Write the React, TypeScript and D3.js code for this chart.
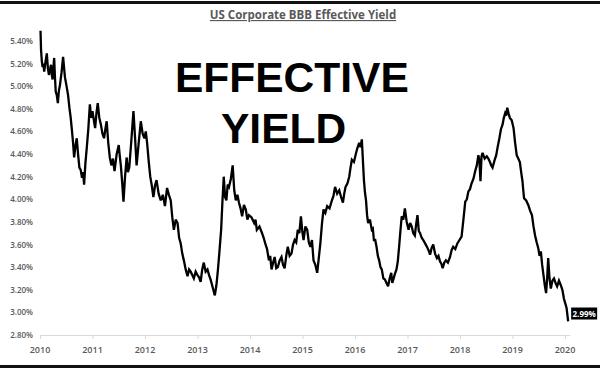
import * as d3 from "d3";

// decimal year / effective yield (%)
const YEARS = [
  2010.01, 2010.02, 2010.035, 2010.05, 2010.065, 2010.08, 2010.105, 2010.13, 2010.15, 2010.17,
  2010.19, 2010.21, 2010.225, 2010.24, 2010.255, 2010.27, 2010.285, 2010.3, 2010.32, 2010.34,
  2010.36, 2010.38, 2010.41, 2010.44, 2010.475, 2010.51, 2010.535, 2010.56, 2010.585, 2010.61,
  2010.63, 2010.65, 2010.675, 2010.7, 2010.725, 2010.75, 2010.775, 2010.8, 2010.82, 2010.84,
  2010.865, 2010.89, 2010.92, 2010.95, 2010.975, 2011.0, 2011.025, 2011.05, 2011.075, 2011.1,
  2011.13, 2011.16, 2011.19, 2011.22, 2011.245, 2011.27, 2011.3, 2011.33, 2011.36, 2011.39,
  2011.42, 2011.46, 2011.5, 2011.52, 2011.54, 2011.565, 2011.59, 2011.62, 2011.65, 2011.675,
  2011.7, 2011.74, 2011.78, 2011.81, 2011.84, 2011.88, 2011.92, 2011.955, 2011.99, 2012.015,
  2012.04, 2012.07, 2012.1, 2012.13, 2012.16, 2012.19, 2012.22, 2012.26, 2012.3, 2012.34,
  2012.38, 2012.4, 2012.42, 2012.455, 2012.49, 2012.52, 2012.55, 2012.585, 2012.62, 2012.65,
  2012.68, 2012.71, 2012.74, 2012.775, 2012.81, 2012.84, 2012.87, 2012.9, 2012.93, 2012.965,
  2013.0, 2013.03, 2013.06, 2013.09, 2013.12, 2013.155, 2013.19, 2013.22, 2013.25, 2013.29,
  2013.33, 2013.36, 2013.39, 2013.42, 2013.45, 2013.475, 2013.5, 2013.525, 2013.55, 2013.575,
  2013.6, 2013.635, 2013.67, 2013.7, 2013.73, 2013.76, 2013.79, 2013.82, 2013.85, 2013.885,
  2013.92, 2013.95, 2013.98, 2014.03, 2014.08, 2014.105, 2014.13, 2014.18, 2014.23, 2014.26,
  2014.29, 2014.325, 2014.36, 2014.385, 2014.41, 2014.44, 2014.47, 2014.5, 2014.53, 2014.565,
  2014.6, 2014.63, 2014.66, 2014.69, 2014.72, 2014.755, 2014.79, 2014.82, 2014.85, 2014.88,
  2014.91, 2014.94, 2014.97, 2014.995, 2015.02, 2015.055, 2015.09, 2015.12, 2015.15, 2015.18,
  2015.21, 2015.245, 2015.28, 2015.31, 2015.34, 2015.37, 2015.4, 2015.435, 2015.47, 2015.515,
  2015.56, 2015.59, 2015.62, 2015.66, 2015.7, 2015.735, 2015.77, 2015.795, 2015.82, 2015.855,
  2015.89, 2015.915, 2015.94, 2015.98, 2016.02, 2016.05, 2016.08, 2016.105, 2016.13, 2016.15,
  2016.17, 2016.19, 2016.21, 2016.23, 2016.25, 2016.285, 2016.32, 2016.34, 2016.36, 2016.385,
  2016.41, 2016.435, 2016.46, 2016.485, 2016.51, 2016.54, 2016.57, 2016.6, 2016.63, 2016.66,
  2016.69, 2016.71, 2016.73, 2016.76, 2016.79, 2016.815, 2016.84, 2016.865, 2016.89, 2016.92,
  2016.95, 2016.985, 2017.02, 2017.05, 2017.08, 2017.11, 2017.14, 2017.165, 2017.19, 2017.215,
  2017.24, 2017.27, 2017.3, 2017.335, 2017.37, 2017.4, 2017.43, 2017.46, 2017.49, 2017.525,
  2017.56, 2017.59, 2017.62, 2017.645, 2017.67, 2017.7, 2017.73, 2017.77, 2017.81, 2017.84,
  2017.87, 2017.91, 2017.95, 2017.99, 2018.03, 2018.065, 2018.1, 2018.13, 2018.16, 2018.19,
  2018.22, 2018.255, 2018.29, 2018.32, 2018.35, 2018.37, 2018.39, 2018.41, 2018.43, 2018.47,
  2018.51, 2018.54, 2018.57, 2018.595, 2018.62, 2018.655, 2018.69, 2018.72, 2018.75, 2018.78,
  2018.81, 2018.835, 2018.86, 2018.88, 2018.9, 2018.925, 2018.95, 2018.985, 2019.02, 2019.05,
  2019.08, 2019.11, 2019.14, 2019.165, 2019.19, 2019.205, 2019.22, 2019.26, 2019.3, 2019.335,
  2019.37, 2019.4, 2019.43, 2019.46, 2019.49, 2019.515, 2019.54, 2019.565, 2019.59, 2019.615,
  2019.64, 2019.66, 2019.68, 2019.705, 2019.73, 2019.76, 2019.79, 2019.82, 2019.85, 2019.885,
  2019.92, 2019.95, 2019.98, 2020.005, 2020.03, 2020.06,
];

const YIELDS = [
  5.49, 5.32, 5.22, 5.17, 5.2, 5.13, 5.22, 5.29, 5.16, 5.1,
  5.15, 5.19, 5.1, 5.06, 5.16, 5.25, 5.08, 4.95, 4.92, 4.85,
  4.96, 5.01, 5.12, 5.26, 5.08, 4.99, 4.92, 4.81, 4.72, 4.6,
  4.5, 4.37, 4.47, 4.54, 4.4, 4.28, 4.26, 4.19, 4.24, 4.13,
  4.32, 4.45, 4.62, 4.84, 4.72, 4.78, 4.7, 4.63, 4.76, 4.85,
  4.72, 4.66, 4.58, 4.54, 4.62, 4.69, 4.5, 4.37, 4.3, 4.36,
  4.25, 4.4, 4.48, 4.38, 4.3, 4.15, 3.98, 4.2, 4.37, 4.24,
  4.28, 4.52, 4.78, 4.55, 4.3, 4.5, 4.69, 4.58, 4.54, 4.6,
  4.5, 4.34, 4.2, 4.12, 4.02, 4.12, 4.17, 4.05, 3.99, 4.04,
  3.94, 4.02, 4.1, 4.04, 3.99, 3.84, 3.73, 3.82, 3.79, 3.66,
  3.61, 3.52, 3.46, 3.38, 3.32, 3.38, 3.36, 3.33, 3.3, 3.36,
  3.33, 3.31, 3.27, 3.38, 3.44, 3.36, 3.38, 3.33, 3.29, 3.22,
  3.15, 3.24, 3.38, 3.55, 3.73, 3.98, 4.2, 4.02, 3.99, 4.13,
  4.11, 4.18, 4.3, 4.08, 3.99, 4.04, 3.97, 3.92, 3.85, 3.95,
  3.91, 3.82, 3.86, 3.84, 3.79, 3.82, 3.73, 3.76, 3.7, 3.66,
  3.61, 3.56, 3.46, 3.5, 3.38, 3.44, 3.49, 3.39, 3.4, 3.46,
  3.49, 3.42, 3.39, 3.5, 3.58, 3.5, 3.52, 3.6, 3.64, 3.62,
  3.73, 3.7, 3.85, 3.72, 3.64, 3.76, 3.73, 3.62, 3.58, 3.64,
  3.46, 3.42, 3.35, 3.48, 3.61, 3.78, 3.91, 3.88, 3.94, 3.92,
  3.99, 4.03, 4.11, 4.05, 4.08, 4.02, 3.97, 4.05, 4.11, 4.14,
  4.2, 4.28, 4.35, 4.33, 4.41, 4.46, 4.5, 4.46, 4.53, 4.35,
  4.17, 4.06, 3.99, 3.86, 3.79, 3.82, 3.73, 3.74, 3.64, 3.64,
  3.58, 3.5, 3.46, 3.4, 3.38, 3.3, 3.29, 3.26, 3.23, 3.3,
  3.35, 3.26, 3.29, 3.34, 3.38, 3.45, 3.58, 3.72, 3.85, 3.82,
  3.92, 3.8, 3.73, 3.79, 3.76, 3.7, 3.68, 3.78, 3.86, 3.72,
  3.7, 3.66, 3.64, 3.61, 3.58, 3.55, 3.51, 3.57, 3.6, 3.52,
  3.48, 3.5, 3.45, 3.43, 3.39, 3.44, 3.46, 3.44, 3.49, 3.55,
  3.58, 3.56, 3.61, 3.64, 3.67, 3.82, 3.98, 4.0, 4.07, 4.09,
  4.14, 4.18, 4.25, 4.3, 4.39, 4.34, 4.16, 4.38, 4.41, 4.36,
  4.38, 4.36, 4.33, 4.3, 4.28, 4.34, 4.39, 4.47, 4.54, 4.62,
  4.66, 4.72, 4.76, 4.74, 4.81, 4.76, 4.72, 4.7, 4.63, 4.5,
  4.39, 4.36, 4.33, 4.24, 4.16, 4.08, 4.01, 3.99, 3.95, 3.9,
  3.86, 3.76, 3.68, 3.62, 3.57, 3.5, 3.54, 3.42, 3.33, 3.24,
  3.17, 3.3, 3.48, 3.3, 3.21, 3.28, 3.3, 3.26, 3.23, 3.28,
  3.24, 3.2, 3.12, 3.08, 3.04, 2.92,
];

const X_TICKS = [2010, 2011, 2012, 2013, 2014, 2015, 2016, 2017, 2018, 2019, 2020];
const Y_TICKS = [2.8, 3.0, 3.2, 3.4, 3.6, 3.8, 4.0, 4.2, 4.4, 4.6, 4.8, 5.0, 5.2, 5.4];
const LAST_LABEL = "2.99%";
const LAST_LABEL_VALUE = 2.99;

const TITLE = "US Corporate BBB Effective Yield";
const BIG_TEXT = ["EFFECTIVE", "YIELD"];

export default function App() {
  const width = 600;
  const height = 375;

  const x = d3.scaleLinear().domain([2010, 2020]).range([40, 565]);
  const y = d3.scaleLinear().domain([2.8, 5.4]).range([335, 41]);

  const points = YEARS.map((t, i) => [t, YIELDS[i]] as [number, number]);
  const line = d3
    .line<[number, number]>()
    .x((d) => x(d[0]))
    .y((d) => y(d[1]));

  const lastX = x(YEARS[YEARS.length - 1]);
  const labelY = y(LAST_LABEL_VALUE);
  const gray = "#595959";
  const font = "'Open Sans', sans-serif";
  const bigFont = "'Liberation Sans', Arial, sans-serif";

  return (
    <svg
      width={width}
      height={height}
      style={{ position: "absolute", left: 0, top: 0, background: "#fff" }}
    >
      {/* frame lines */}
      <rect x={0} y={1} width={width} height={3} fill="#111" />
      <rect x={0} y={365} width={width} height={3} fill="#111" />

      <text
        x={303}
        y={19}
        textAnchor="middle"
        fontFamily={font}
        fontWeight={700}
        fontSize={11.5}
        fill={gray}
        textDecoration="underline"
      >
        {TITLE}
      </text>

      {/* y labels */}
      {Y_TICKS.map((v) => (
        <text
          key={v}
          x={33}
          y={y(v) + 3}
          textAnchor="end"
          fontFamily={font}
          fontWeight={600}
          fontSize={8}
          fill={gray}
        >
          {v.toFixed(2)}%
        </text>
      ))}

      {/* x axis */}
      <line x1={x(2010)} x2={x(2020.1)} y1={335.5} y2={335.5} stroke="#d9d9d9" />
      {X_TICKS.map((t) => (
        <g key={t}>
          <line x1={x(t) + 0.5} x2={x(t) + 0.5} y1={335} y2={339} stroke="#d9d9d9" />
          <text
            x={x(t)}
            y={353}
            textAnchor="middle"
            fontFamily={font}
            fontWeight={600}
            fontSize={9}
            fill={gray}
          >
            {t}
          </text>
        </g>
      ))}

      {/* big overlay text */}
      <text x={175} y={92} fontFamily={bigFont} fontWeight={700} fontSize={42.5} fill="#000">
        {BIG_TEXT[0]}
      </text>
      <text x={221} y={143} fontFamily={bigFont} fontWeight={700} fontSize={42.5} fill="#000">
        {BIG_TEXT[1]}
      </text>

      {/* series */}
      <path
        d={line(points) ?? ""}
        fill="none"
        stroke="#000"
        strokeWidth={2.3}
        strokeLinejoin="miter"
        strokeMiterlimit={3}
      />

      {/* last value label */}
      <rect x={lastX + 3} y={labelY - 6} width={26} height={12} fill="#000" />
      <text
        x={lastX + 16}
        y={labelY + 3}
        textAnchor="middle"
        fontFamily={font}
        fontWeight={700}
        fontSize={8}
        fill="#fff"
      >
        {LAST_LABEL}
      </text>
    </svg>
  );
}
